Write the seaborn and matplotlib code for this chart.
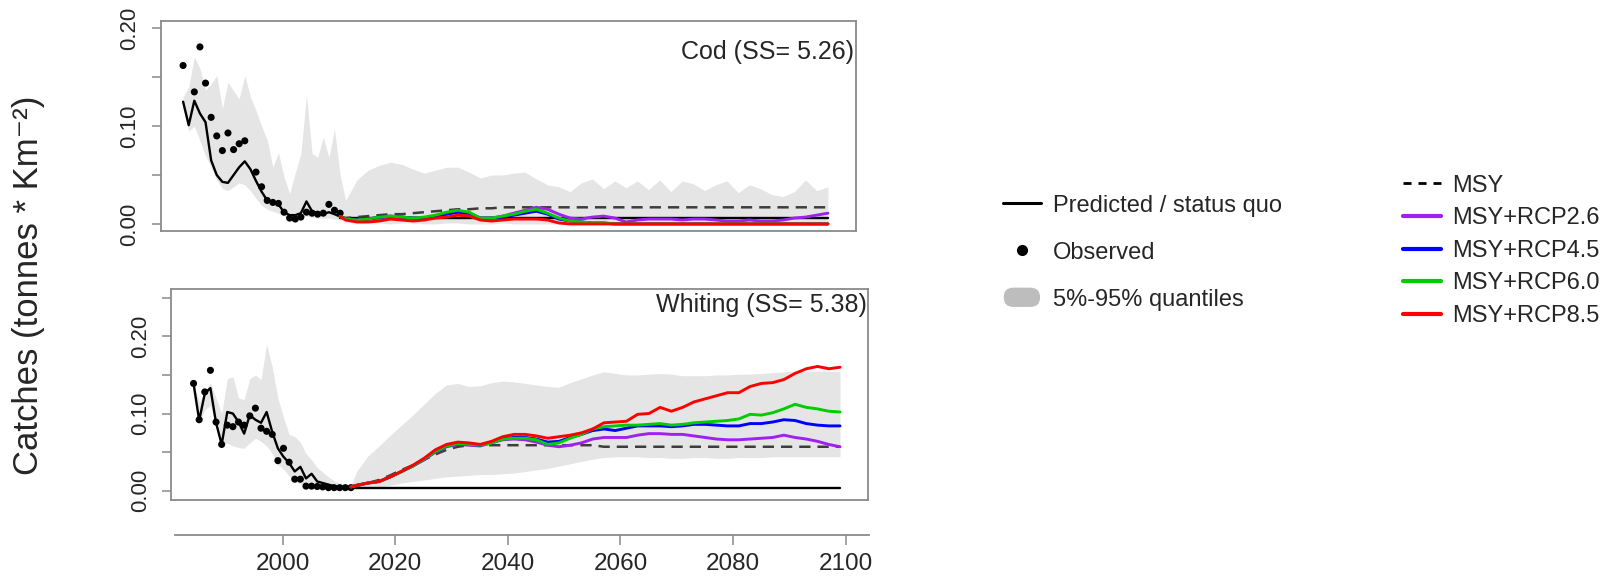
import numpy as np
import matplotlib
matplotlib.use("Agg")
import matplotlib.pyplot as plt
import matplotlib.patches as mpatches
from matplotlib.lines import Line2D
from matplotlib.legend_handler import HandlerPatch
import seaborn as sns

# ---------------- data ----------------
hist_years = list(range(1984, 2013))          # 29 hindcast years
proj_years = list(range(2013, 2100, 2))       # 44 projection years

# Cod
cod_obs = [0.162, np.nan, 0.135, 0.181, 0.144, 0.109, 0.090, 0.075, 0.093, 0.076,
           0.082, 0.085, np.nan, 0.053, 0.038, 0.024, 0.022, 0.021, 0.012, 0.006,
           0.005, 0.007, 0.012, 0.011, 0.010, 0.011, 0.020, 0.014, 0.011]
cod_pred = [0.125, 0.101, 0.126, 0.113, 0.104, 0.065, 0.050, 0.043, 0.042, 0.050,
            0.058, 0.064, 0.056, 0.044, 0.033, 0.024, 0.022, 0.020, 0.012, 0.009,
            0.009, 0.011, 0.023, 0.013, 0.011, 0.010, 0.012, 0.010, 0.0075]
cod_lo_hist = [0.118, 0.095, 0.100, 0.085, 0.070, 0.058, 0.045, 0.036, 0.034, 0.038,
               0.042, 0.040, 0.034, 0.026, 0.019, 0.015, 0.013, 0.011, 0.008, 0.006,
               0.006, 0.007, 0.008, 0.007, 0.006, 0.006, 0.006, 0.005, 0.004]
cod_hi_hist = [0.130, 0.140, 0.171, 0.159, 0.137, 0.143, 0.152, 0.118, 0.145, 0.136,
               0.128, 0.152, 0.130, 0.116, 0.100, 0.086, 0.058, 0.073, 0.048, 0.031,
               0.052, 0.072, 0.132, 0.072, 0.068, 0.089, 0.068, 0.097, 0.050]
cod_lo_proj = [0.002, 0.001, 0.001, 0.001, 0.000, 0.001, 0.001, 0.000, 0.000, 0.001,
               0.001, 0.000, 0.000, 0.000, 0.001, 0.000, 0.000, 0.000, 0.000, 0.000,
               0.000, 0.000, 0.000, 0.000, 0.000, 0.000, 0.000, 0.000, 0.000, 0.000,
               0.000, 0.000, 0.000, 0.000, 0.000, 0.000, 0.000, 0.000, 0.000, 0.000,
               0.000, 0.000, 0.000, 0.000]
cod_hi_proj = [0.024, 0.045, 0.055, 0.060, 0.063, 0.061, 0.056, 0.052, 0.055, 0.058,
               0.058, 0.053, 0.047, 0.050, 0.050, 0.052, 0.053, 0.046, 0.040, 0.038,
               0.033, 0.042, 0.046, 0.036, 0.044, 0.037, 0.044, 0.035, 0.045, 0.033,
               0.044, 0.041, 0.034, 0.040, 0.044, 0.032, 0.040, 0.036, 0.030, 0.028,
               0.033, 0.045, 0.034, 0.038]
cod_status_quo = 0.006
cod_msy = [0.006, 0.007, 0.008, 0.009, 0.010, 0.010, 0.011, 0.012, 0.013, 0.014,
           0.015, 0.015, 0.016, 0.016, 0.017, 0.017, 0.017, 0.017, 0.017, 0.017,
           0.017, 0.017, 0.017, 0.017, 0.017, 0.017, 0.017, 0.017, 0.017, 0.017,
           0.017, 0.017, 0.017, 0.017, 0.017, 0.017, 0.017, 0.017, 0.017, 0.017,
           0.017, 0.017, 0.017, 0.017]
cod_rcp26 = [0.005, 0.004, 0.005, 0.006, 0.007, 0.007, 0.006, 0.006, 0.008, 0.010,
             0.012, 0.010, 0.006, 0.006, 0.008, 0.011, 0.014, 0.017, 0.015, 0.010,
             0.006, 0.005, 0.007, 0.008, 0.006, 0.002, 0.004, 0.005, 0.005, 0.005,
             0.004, 0.005, 0.005, 0.004, 0.003, 0.003, 0.004, 0.003, 0.003, 0.004,
             0.006, 0.007, 0.009, 0.011]
cod_rcp45 = [0.005, 0.004, 0.005, 0.007, 0.008, 0.007, 0.006, 0.006, 0.008, 0.010,
             0.012, 0.011, 0.006, 0.006, 0.007, 0.009, 0.011, 0.013, 0.010, 0.005,
             0.003, 0.002, 0.001, 0.001, 0.000, 0.000, 0.000, 0.000, 0.000, 0.000,
             0.000, 0.000, 0.000, 0.000, 0.000, 0.000, 0.000, 0.000, 0.000, 0.000,
             0.000, 0.000, 0.000, 0.000]
cod_rcp60 = [0.005, 0.004, 0.005, 0.007, 0.008, 0.007, 0.006, 0.007, 0.009, 0.012,
             0.014, 0.012, 0.006, 0.006, 0.008, 0.010, 0.013, 0.015, 0.011, 0.006,
             0.003, 0.002, 0.001, 0.001, 0.000, 0.000, 0.000, 0.000, 0.000, 0.000,
             0.000, 0.000, 0.000, 0.000, 0.000, 0.000, 0.000, 0.000, 0.000, 0.000,
             0.000, 0.000, 0.000, 0.000]
cod_rcp85 = [0.004, 0.002, 0.002, 0.003, 0.005, 0.004, 0.003, 0.004, 0.006, 0.007,
             0.009, 0.008, 0.004, 0.003, 0.004, 0.005, 0.005, 0.005, 0.004, 0.001,
             0.000, 0.000, 0.000, 0.000, 0.000, 0.000, 0.000, 0.000, 0.000, 0.000,
             0.000, 0.000, 0.000, 0.000, 0.000, 0.000, 0.000, 0.000, 0.000, 0.000,
             0.000, 0.000, 0.000, 0.000]

# Whiting
wh_obs = [0.139, 0.092, 0.128, 0.156, 0.089, 0.060, 0.085, 0.083, 0.089, 0.085,
          0.097, 0.107, 0.081, 0.077, 0.073, 0.039, 0.055, 0.037, 0.015, 0.015,
          0.006, 0.006, 0.0055, 0.005, 0.004, 0.004, 0.004, 0.004, 0.004]
wh_pred = [0.139, 0.091, 0.126, 0.133, 0.088, 0.060, 0.102, 0.100, 0.089, 0.074,
           0.098, 0.092, 0.088, 0.102, 0.076, 0.055, 0.044, 0.036, 0.025, 0.031,
           0.016, 0.022, 0.012, 0.010, 0.008, 0.006, 0.005, 0.005, 0.005]
wh_lo_hist = [0.138, 0.088, 0.105, 0.110, 0.085, 0.060, 0.062, 0.058, 0.056, 0.055,
              0.062, 0.068, 0.064, 0.058, 0.048, 0.034, 0.028, 0.019, 0.012, 0.009,
              0.007, 0.005, 0.004, 0.004, 0.003, 0.003, 0.003, 0.003, 0.003]
wh_hi_hist = [0.140, 0.115, 0.128, 0.140, 0.120, 0.100, 0.145, 0.148, 0.120, 0.118,
              0.145, 0.150, 0.144, 0.190, 0.160, 0.120, 0.095, 0.073, 0.070, 0.063,
              0.048, 0.040, 0.030, 0.024, 0.018, 0.013, 0.010, 0.008, 0.006]
wh_lo_proj = [0.003, 0.004, 0.005, 0.007, 0.010, 0.012, 0.014, 0.016, 0.018, 0.019,
              0.020, 0.021, 0.021, 0.022, 0.023, 0.025, 0.027, 0.029, 0.032, 0.035,
              0.038, 0.041, 0.043, 0.044, 0.044, 0.044, 0.043, 0.043, 0.042, 0.042,
              0.043, 0.043, 0.042, 0.042, 0.043, 0.043, 0.043, 0.044, 0.044, 0.044,
              0.044, 0.044, 0.044, 0.044]
wh_hi_proj = [0.025, 0.045, 0.058, 0.072, 0.085, 0.098, 0.112, 0.126, 0.137, 0.139,
              0.135, 0.136, 0.140, 0.142, 0.141, 0.139, 0.137, 0.135, 0.134, 0.140,
              0.145, 0.150, 0.154, 0.152, 0.150, 0.150, 0.151, 0.152, 0.151, 0.149,
              0.149, 0.149, 0.150, 0.150, 0.151, 0.151, 0.152, 0.153, 0.154, 0.155,
              0.155, 0.155, 0.155, 0.154]
wh_status_quo = 0.003
wh_msy = [0.006, 0.010, 0.014, 0.020, 0.027, 0.033, 0.040, 0.047, 0.053, 0.057,
          0.059, 0.059, 0.059, 0.059, 0.059, 0.059, 0.059, 0.059, 0.059, 0.059,
          0.059, 0.059, 0.057, 0.057, 0.057, 0.057, 0.057, 0.057, 0.057, 0.057,
          0.057, 0.057, 0.057, 0.057, 0.057, 0.057, 0.057, 0.057, 0.057, 0.057,
          0.057, 0.057, 0.057, 0.057]
wh_rcp26 = [0.007, 0.010, 0.012, 0.018, 0.025, 0.032, 0.040, 0.050, 0.057,
            0.060, 0.059, 0.058, 0.062, 0.066, 0.067, 0.066, 0.063, 0.059, 0.057,
            0.059, 0.062, 0.067, 0.069, 0.069, 0.069, 0.072, 0.074, 0.074, 0.073,
            0.073, 0.071, 0.069, 0.067, 0.066, 0.066, 0.067, 0.068, 0.069, 0.072,
            0.069, 0.067, 0.064, 0.060, 0.057]
wh_rcp45 = [0.007, 0.010, 0.012, 0.018, 0.025, 0.032, 0.041, 0.051, 0.058,
            0.061, 0.060, 0.059, 0.063, 0.068, 0.069, 0.069, 0.067, 0.063, 0.064,
            0.069, 0.073, 0.078, 0.080, 0.078, 0.081, 0.084, 0.084, 0.084, 0.083,
            0.084, 0.086, 0.086, 0.085, 0.084, 0.084, 0.087, 0.087, 0.089, 0.092,
            0.091, 0.087, 0.085, 0.084, 0.084]
wh_rcp60 = [0.007, 0.010, 0.012, 0.018, 0.025, 0.032, 0.041, 0.051, 0.058,
            0.061, 0.060, 0.059, 0.062, 0.067, 0.068, 0.068, 0.066, 0.060, 0.062,
            0.068, 0.073, 0.080, 0.083, 0.084, 0.085, 0.085, 0.086, 0.087, 0.085,
            0.086, 0.088, 0.089, 0.090, 0.091, 0.093, 0.099, 0.098, 0.101, 0.106,
            0.112, 0.108, 0.106, 0.103, 0.102]
wh_rcp85 = [0.007, 0.010, 0.012, 0.018, 0.025, 0.033, 0.042, 0.053, 0.060,
            0.063, 0.062, 0.060, 0.064, 0.070, 0.073, 0.073, 0.071, 0.068, 0.070,
            0.072, 0.075, 0.080, 0.088, 0.089, 0.090, 0.099, 0.100, 0.108, 0.103,
            0.108, 0.115, 0.119, 0.123, 0.127, 0.127, 0.135, 0.139, 0.140, 0.144,
            0.152, 0.158, 0.161, 0.158, 0.160]

panel_labels = ["Cod (SS= 5.26)", "Whiting (SS= 5.38)"]
scenario_names = ["MSY+RCP2.6", "MSY+RCP4.5", "MSY+RCP6.0", "MSY+RCP8.5"]
scenario_colors = ["#a020f0", "#0000ff", "#00cd00", "#ff0000"]
x_ticks = [2000, 2020, 2040, 2060, 2080, 2100]

# ---------------- style ----------------
sns.set_theme(style="white")
plt.rcParams["font.family"] = ["Liberation Sans", "DejaVu Sans"]
SPINE = "#8a8a8a"
TXT = "#262626"

fig = plt.figure(figsize=(16.23, 5.77), dpi=100)
ax1 = fig.add_axes([0.0990, 0.6002, 0.4284, 0.3634])
ax2 = fig.add_axes([0.1054, 0.1334, 0.4295, 0.3652])
axx = fig.add_axes([0.1078, 0.0728, 0.4276, 0.0001])


def draw_panel(ax, obs, pred, lo_h, hi_h, lo_p, hi_p, sq, msy, rcps, ylim, yticks, label, lx, ly):
    band_x = hist_years + proj_years
    ax.fill_between(band_x, lo_h + lo_p, hi_h + hi_p, color="#e5e5e5", lw=0, zorder=1)
    sns.lineplot(x=hist_years, y=pred, color="black", lw=1.7, ax=ax, sort=False,
                 errorbar=None, legend=False, zorder=3)
    sns.lineplot(x=[hist_years[-1], proj_years[-1]], y=[sq, sq], color="black", lw=1.7,
                 ax=ax, sort=False, errorbar=None, legend=False, zorder=3)
    sns.scatterplot(x=hist_years, y=obs, color="black", s=26, edgecolor="none", ax=ax,
                    legend=False, zorder=4)
    px = [hist_years[-1]] + proj_years
    sns.lineplot(x=px, y=[pred[-1]] + msy, color="#3d3d3d", lw=1.8, ls=(0, (4.5, 2.8)),
                 ax=ax, sort=False, errorbar=None, legend=False, zorder=3)
    for vals, col in zip(rcps, scenario_colors):
        sns.lineplot(x=px, y=[pred[-1]] + vals, color=col, lw=2.1, ax=ax, sort=False,
                     errorbar=None, legend=False, zorder=5)
    ax.set_xlim(1980.0, 2104.0)
    ax.set_ylim(*ylim)
    ax.set_xticks([])
    ax.set_yticks(yticks)
    ax.set_yticklabels([f"{t:.2f}" if round(t * 100) % 10 == 0 else "" for t in yticks],
                       rotation=90, va="center")
    ax.tick_params(axis="y", length=6.5, width=1.1, color=SPINE, pad=8,
                   labelsize=16, labelcolor=TXT, left=True)
    ax.set_xlabel("")
    ax.set_ylabel("")
    for s in ax.spines.values():
        s.set_color(SPINE)
        s.set_linewidth(1.3)
        s.set_visible(True)
    ax.text(lx, ly, label, transform=ax.transAxes, ha="right", va="center",
            fontsize=18, color=TXT)


draw_panel(ax1, cod_obs, cod_pred, cod_lo_hist, cod_hi_hist, cod_lo_proj, cod_hi_proj,
           cod_status_quo, cod_msy, [cod_rcp26, cod_rcp45, cod_rcp60, cod_rcp85],
           (-0.0069, 0.2075), [0.0, 0.05, 0.10, 0.15, 0.20], panel_labels[0], 0.997, 0.85)
draw_panel(ax2, wh_obs, wh_pred, wh_lo_hist, wh_hi_hist, wh_lo_proj, wh_hi_proj,
           wh_status_quo, wh_msy, [wh_rcp26, wh_rcp45, wh_rcp60, wh_rcp85],
           (-0.012, 0.2609), [0.0, 0.05, 0.10, 0.15, 0.20, 0.25], panel_labels[1], 0.998, 0.925)

# detached x axis (R style)
axx.set_xlim(1980.84, 2104.15)
axx.set_ylim(0, 1)
axx.set_yticks([])
axx.set_xticks(x_ticks)
axx.set_xticklabels([str(t) for t in x_ticks])
axx.tick_params(axis="x", length=7, width=1.1, color=SPINE, pad=6, labelsize=17.5,
                labelcolor=TXT, bottom=True)
for k, s in axx.spines.items():
    s.set_visible(k == "bottom")
axx.spines["bottom"].set_color(SPINE)
axx.spines["bottom"].set_linewidth(1.3)
axx.patch.set_alpha(0)

fig.text(0.0173, 0.506, "Catches (tonnes * Km⁻²)", rotation=90, ha="center", va="center",
         fontsize=25, color=TXT)


# ---------------- legends ----------------
def pill(legend, orig_handle, xdescent, ydescent, width, height, fontsize):
    h = height * 1.25
    return mpatches.FancyBboxPatch((-xdescent, -ydescent + (height - h) / 2), width, h,
                                   boxstyle=mpatches.BoxStyle("Round", pad=0, rounding_size=h / 2),
                                   facecolor="#bdbdbd", edgecolor="none")


left_handles = [Line2D([], [], color="black", lw=2.2),
                Line2D([], [], ls="none", marker="o", color="black", markersize=7),
                mpatches.Patch(facecolor="#bdbdbd")]
left_labels = ["Predicted / status quo", "Observed", "5%-95% quantiles"]
leg1 = fig.legend(left_handles, left_labels, loc="upper left",
                  bbox_to_anchor=(1003 / 1623, 0.6629), frameon=False, fontsize=17,
                  handlelength=1.6, handletextpad=0.5, labelspacing=1.06, borderpad=0,
                  borderaxespad=0, numpoints=1,
                  handler_map={mpatches.Patch: HandlerPatch(patch_func=pill)})

right_handles = [Line2D([], [], color="black", lw=2.0, ls=(0, (2.9, 2.5)))] + \
                [Line2D([], [], color=c, lw=3.0) for c in scenario_colors]
right_labels = ["MSY"] + scenario_names
leg2 = fig.legend(right_handles, right_labels, loc="upper left",
                  bbox_to_anchor=(1403 / 1623, 0.6975), frameon=False, fontsize=17,
                  handlelength=1.6, handletextpad=0.5, labelspacing=0.45, borderpad=0,
                  borderaxespad=0)
for leg in (leg1, leg2):
    for t in leg.get_texts():
        t.set_color(TXT)

fig.savefig("out.png", dpi=100)
